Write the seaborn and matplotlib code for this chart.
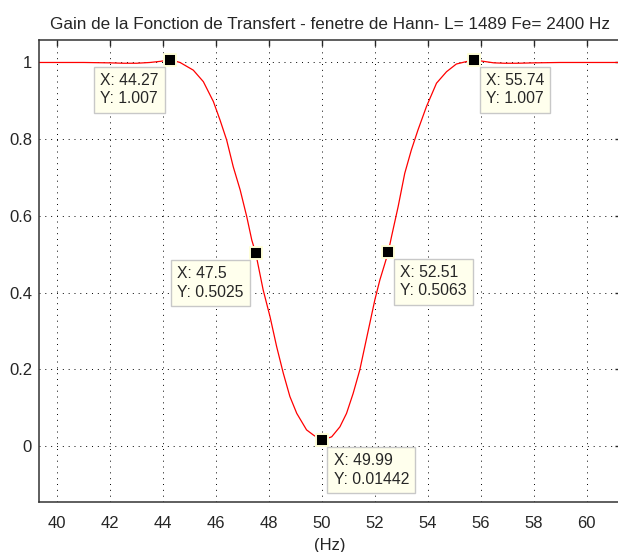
import matplotlib
matplotlib.use("Agg")
import matplotlib.pyplot as plt
import seaborn as sns
import pandas as pd

# gain curve
freq_hz = [39.3, 40.0, 41.0, 42.0, 42.5, 43.0, 43.5, 43.9, 44.27, 44.64,
           45.14, 45.52, 45.90, 46.15, 46.40, 46.65, 46.91, 47.16, 47.35, 47.5,
           47.78, 48.04, 48.29, 48.54, 48.79, 49.05, 49.42, 49.67, 49.99, 50.37,
           50.68, 50.93, 51.18, 51.43, 51.62, 51.81, 52.0, 52.19, 52.38, 52.51,
           52.63, 52.88, 53.13, 53.38, 53.63, 53.95, 54.33, 54.71, 55.08, 55.74,
           56.1, 56.5, 56.9, 57.4, 58.0, 59.0, 60.0, 61.3]
gain = [1.0, 1.0, 1.0, 0.999, 0.998, 0.998, 1.0, 1.003, 1.007, 1.0,
        0.980, 0.950, 0.898, 0.850, 0.798, 0.728, 0.668, 0.598, 0.537, 0.5025,
        0.407, 0.337, 0.259, 0.190, 0.129, 0.085, 0.042, 0.029, 0.01442, 0.024,
        0.050, 0.085, 0.137, 0.198, 0.259, 0.320, 0.381, 0.433, 0.476, 0.5063,
        0.546, 0.624, 0.711, 0.772, 0.824, 0.885, 0.946, 0.976, 0.996, 1.007,
        1.003, 0.999, 0.998, 0.998, 0.999, 1.0, 1.0, 1.0]

# data tips
tip_x = [44.27, 47.5, 49.99, 52.51, 55.74]
tip_y = [1.007, 0.5025, 0.01442, 0.5063, 1.007]
tip_side = ["left", "left", "right", "right", "right"]

title = "Gain de la Fonction de Transfert - fenetre de Hann- L= 1489 Fe= 2400 Hz"

sns.set_style("white")
plt.rcParams["font.family"] = ["Liberation Sans", "DejaVu Sans"]

df = pd.DataFrame({"f": freq_hz, "g": gain})
tips = pd.DataFrame({"f": tip_x, "g": tip_y})

fig = plt.figure(figsize=(6.18, 5.52), dpi=100)
ax = fig.add_axes([0.0631, 0.0906, 0.9417, 0.8370])

sns.lineplot(data=df, x="f", y="g", color="red", linewidth=0.9, ax=ax)
sns.scatterplot(data=tips, x="f", y="g", marker="s", s=85, color="black",
                edgecolor="#ffffd8", linewidth=1.4, zorder=5, ax=ax)

for x, y, side in zip(tip_x, tip_y, tip_side):
    label = f"X: {x:.4g}\nY: {y:.4g}"
    dx = -12 if side == "left" else 12
    ax.annotate(label, xy=(x, y), xytext=(dx, -13), textcoords="offset pixels",
                ha="right" if side == "left" else "left", va="top",
                multialignment="left", fontsize=11.3, linespacing=1.3,
                zorder=6,
                bbox=dict(boxstyle="square,pad=0.4", fc="#ffffed",
                          ec="#c8c8c8", lw=1))

ax.set_xlim(39.31, 61.3)
ax.set_ylim(-0.146, 1.0587)
ax.set_xticks(range(40, 61, 2))
ax.set_yticks([0, 0.2, 0.4, 0.6, 0.8, 1])
ax.set_yticklabels(["0", "0.2", "0.4", "0.6", "0.8", "1"])
ax.grid(True, color="black", linestyle=(0, (1, 5)), linewidth=0.7)
ax.tick_params(direction="in", top=True, right=True, length=4, width=1,
               labelsize=12, colors="#262626", pad=10)
ax.tick_params(axis="y", pad=5)
for s in ax.spines.values():
    s.set_color("#333333")
    s.set_linewidth(1.1)
ax.spines["right"].set_visible(False)

ax.set_title(title, fontsize=12.3, pad=8)
ax.set_xlabel("(Hz)", fontsize=12, labelpad=5)
ax.set_ylabel("")

fig.savefig("out.png", dpi=100)
